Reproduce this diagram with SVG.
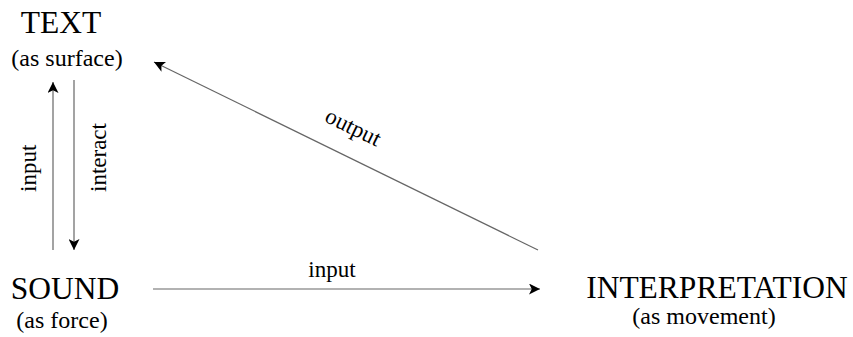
<svg xmlns="http://www.w3.org/2000/svg" width="853" height="337" viewBox="0 0 853 337">
<style>
.t{font-family:"Liberation Serif","Times New Roman",serif;fill:#000}
.big{font-size:31.5px}
.sm{font-size:24px}
.lbl{font-size:23px}
.c{stroke:#666;stroke-width:1.2;fill:none}
</style>
<defs>
<marker id="ah" viewBox="0 0 10 10" refX="10" refY="5" markerWidth="11" markerHeight="11" markerUnits="userSpaceOnUse" orient="auto">
<path d="M0,0 L10,5 L0,10 L2.5,5 Z" fill="#000"/>
</marker>
</defs>
<rect width="853" height="337" fill="#fff"/>
<g id="text-node">
<text class="t big" x="61" y="33" text-anchor="middle">TEXT</text>
<text class="t sm" x="67" y="66" text-anchor="middle">(as surface)</text>
</g>
<g id="sound-node">
<text class="t big" x="65" y="299" text-anchor="middle">SOUND</text>
<text class="t sm" x="62" y="328" text-anchor="middle">(as force)</text>
</g>
<g id="interpretation-node">
<text class="t big" x="717" y="298" text-anchor="middle">INTERPRETATION</text>
<text class="t sm" x="704" y="324" text-anchor="middle">(as movement)</text>
</g>
<g id="connectors">
<line class="c" x1="53" y1="250" x2="53" y2="82" marker-end="url(#ah)"/>
<line class="c" x1="74" y1="80" x2="74" y2="250" marker-end="url(#ah)"/>
<line class="c" x1="538" y1="250" x2="154" y2="62" marker-end="url(#ah)"/>
<line class="c" x1="153" y1="289" x2="540" y2="289" marker-end="url(#ah)"/>
<text class="t lbl" transform="translate(36,192) rotate(-90)">input</text>
<text class="t lbl" transform="translate(106,192) rotate(-90)">interact</text>
<text class="t lbl" text-anchor="middle" transform="translate(350,134) rotate(26)">output</text>
<text class="t lbl" x="332" y="277" text-anchor="middle">input</text>
</g>
</svg>
